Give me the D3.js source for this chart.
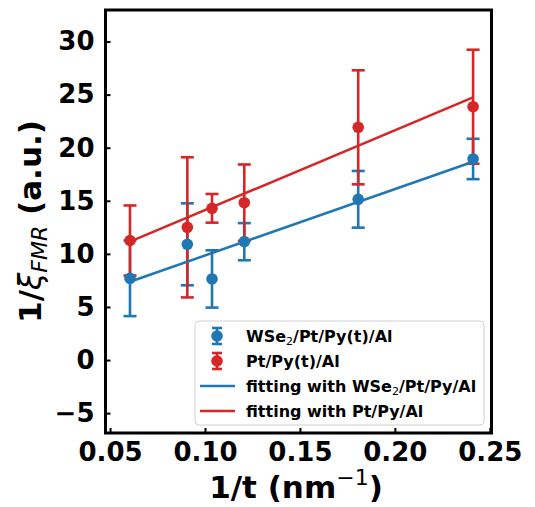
<!DOCTYPE html>
<html><head><meta charset="utf-8">
<script src="https://cdn.jsdelivr.net/npm/d3@7"></script>
<style>
html,body{margin:0;padding:0;background:#fff;}
svg{display:block;font-family:"DejaVu Sans",sans-serif;}
</style></head>
<body>
<svg id="chart" width="535" height="507"></svg>
<script>
// ---- data ----
const xVals = [0.0605, 0.0907, 0.1037, 0.1207, 0.1807, 0.2412];
const blueY = [7.70, 10.90, 7.64, 11.15, 15.14, 18.94];
const blueErr = [3.56, 3.86, 2.70, 1.75, 2.67, 1.90];
const redY = [11.26, 12.50, 14.29, 14.82, 21.92, 23.86];
const redErr = [3.30, 6.60, 1.35, 3.60, 5.37, 5.37];
const fitX = [0.0605, 0.2412];
const blueFit = [7.38, 18.68];
const redFit = [11.15, 24.74];
const xTicks = [0.05, 0.10, 0.15, 0.20, 0.25];
const yTicks = [-5, 0, 5, 10, 15, 20, 25, 30];
const legendLabels = ["WSe2/Pt/Py(t)/Al", "Pt/Py(t)/Al", "fitting with WSe2/Pt/Py/Al", "fitting with Pt/Py/Al"];

const BLUE = "#1f77b4", RED = "#d62728";
const svg = d3.select("#chart");
const L = 105.5, R = 491.5, T = 10, B = 433;
const x = d3.scaleLinear().domain([0.0476, 0.2509]).range([L, R]);
const y = d3.scaleLinear().domain([-6.87, 32.97]).range([B, T]);

// axes (inward ticks)
const xAxis = d3.axisBottom(x).tickValues(xTicks).tickFormat(d3.format(".2f")).tickSizeInner(-5).tickSizeOuter(0).tickPadding(10);
const yAxis = d3.axisLeft(y).tickValues(yTicks).tickFormat(d => d < 0 ? "\u2212" + Math.abs(d) : d).tickSizeInner(-5).tickSizeOuter(0).tickPadding(11);
const gx = svg.append("g").attr("transform", `translate(0,${B})`).call(xAxis);
const gy = svg.append("g").attr("transform", `translate(${L},0)`).call(yAxis);
[gx, gy].forEach(g => {
  g.select(".domain").remove();
  g.selectAll(".tick line").attr("stroke", "#000").attr("stroke-width", 2);
  g.selectAll(".tick text").attr("fill", "#000").attr("font-size", 26).attr("font-weight", "bold").attr("font-family", "DejaVu Sans");
});

function errorbars(ys, errs, color) {
  const g = svg.append("g").attr("stroke", color).attr("stroke-width", 2.6).attr("fill", "none");
  xVals.forEach((xv, i) => {
    const yt = y(ys[i] + errs[i]), yb = y(ys[i] - errs[i]), cx = x(xv);
    g.append("line").attr("x1", cx).attr("x2", cx).attr("y1", yt).attr("y2", yb);
    g.append("line").attr("x1", cx - 6.5).attr("x2", cx + 6.5).attr("y1", yt).attr("y2", yt);
    g.append("line").attr("x1", cx - 6.5).attr("x2", cx + 6.5).attr("y1", yb).attr("y2", yb);
  });
}
errorbars(blueY, blueErr, BLUE);
errorbars(redY, redErr, RED);

function markers(ys, color) {
  svg.append("g").selectAll("circle").data(xVals).join("circle")
    .attr("cx", d => x(d)).attr("cy", (d, i) => y(ys[i])).attr("r", 5.8).attr("fill", color);
}
markers(blueY, BLUE);
markers(redY, RED);

const line = d3.line().x(d => x(d[0])).y(d => y(d[1]));
svg.append("path").datum(fitX.map((v, i) => [v, blueFit[i]])).attr("d", line).attr("stroke", BLUE).attr("stroke-width", 2.5).attr("fill", "none");
svg.append("path").datum(fitX.map((v, i) => [v, redFit[i]])).attr("d", line).attr("stroke", RED).attr("stroke-width", 2.5).attr("fill", "none");

// frame
svg.append("rect").attr("x", L).attr("y", T).attr("width", R - L).attr("height", B - T)
  .attr("fill", "none").attr("stroke", "#000").attr("stroke-width", 3);

// legend
const lg = svg.append("g");
lg.append("rect").attr("x", 195).attr("y", 321).attr("width", 289).attr("height", 104).attr("rx", 4)
  .attr("fill", "#fff").attr("fill-opacity", 0.8).attr("stroke", "#d0d0d0").attr("stroke-width", 1);
const rowY = [336, 361, 386, 411];
const colors = [BLUE, RED, BLUE, RED];
legendLabels.forEach((lab, i) => {
  const cy = rowY[i];
  if (i < 2) {
    lg.append("line").attr("x1", 217).attr("x2", 217).attr("y1", cy - 8).attr("y2", cy + 8).attr("stroke", colors[i]).attr("stroke-width", 2.6);
    lg.append("line").attr("x1", 212).attr("x2", 222).attr("y1", cy - 8).attr("y2", cy - 8).attr("stroke", colors[i]).attr("stroke-width", 2.6);
    lg.append("line").attr("x1", 212).attr("x2", 222).attr("y1", cy + 8).attr("y2", cy + 8).attr("stroke", colors[i]).attr("stroke-width", 2.6);
    lg.append("circle").attr("cx", 217).attr("cy", cy).attr("r", 5.8).attr("fill", colors[i]);
  } else {
    lg.append("line").attr("x1", 200).attr("x2", 235).attr("y1", cy).attr("y2", cy).attr("stroke", colors[i]).attr("stroke-width", 2.5);
  }
  const t = lg.append("text").attr("x", 246).attr("y", cy + 6).attr("font-size", 16).attr("font-weight", "bold").attr("fill", "#000");
  const parts = lab.split("WSe2");
  if (parts.length > 1) {
    t.append("tspan").text(parts[0] + "WSe");
    t.append("tspan").text("2").attr("font-size", 11).attr("font-weight", "normal").attr("dy", 3);
    t.append("tspan").text(parts[1]).attr("dy", -3);
  } else {
    t.text(lab);
  }
});

// x label
const xl = svg.append("text").attr("x", 296).attr("y", 498).attr("text-anchor", "middle")
  .attr("font-size", 31).attr("font-weight", "bold").attr("fill", "#000");
xl.append("tspan").text("1/t (nm");
xl.append("tspan").text("\u22121").attr("font-size", 22).attr("font-weight", "normal").attr("dy", -13);
xl.append("tspan").text(")").attr("dy", 13);

// y label
const yl = svg.append("text").attr("transform", `translate(41,${(T + B) / 2}) rotate(-90)`).attr("text-anchor", "middle")
  .attr("font-size", 31).attr("font-weight", "bold").attr("fill", "#000");
yl.append("tspan").text("1/");
yl.append("tspan").text("\u03be").attr("font-style", "italic").attr("font-weight", "normal");
yl.append("tspan").text("FMR").attr("font-style", "italic").attr("font-weight", "normal").attr("font-size", 22).attr("dy", 6);
yl.append("tspan").text(" (a.u.)").attr("dy", -6);
</script>
</body></html>
